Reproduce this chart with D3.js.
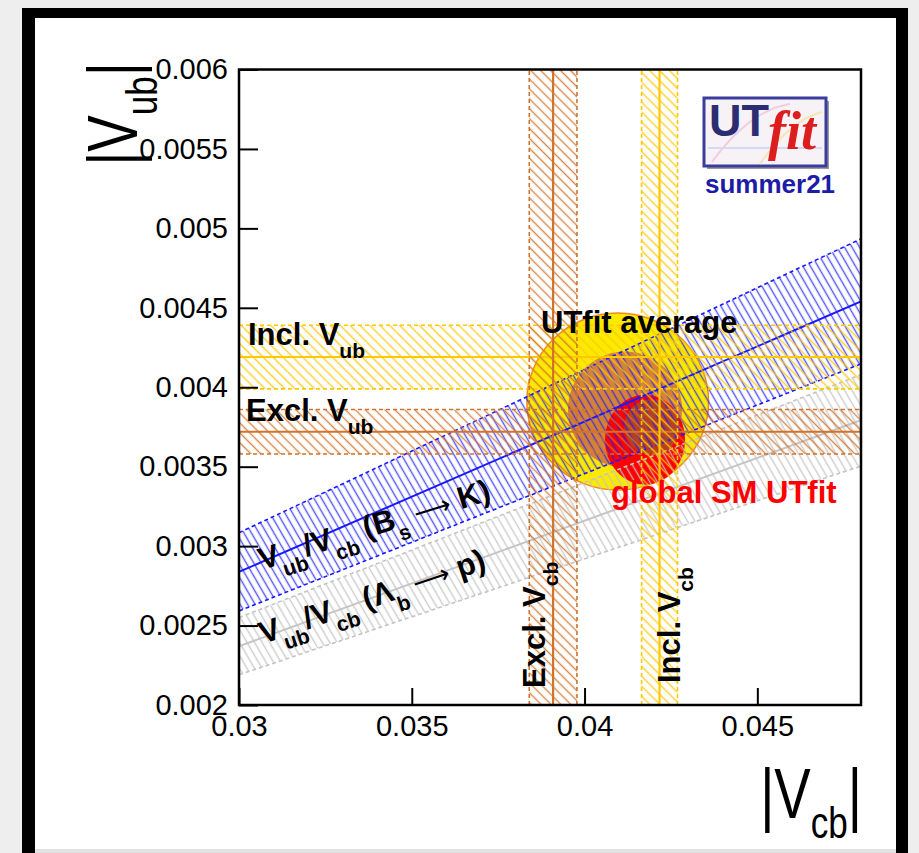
<!DOCTYPE html>
<html>
<head>
<meta charset="utf-8">
<script src="https://cdn.jsdelivr.net/npm/d3@7"></script>
<style>
  html, body { margin: 0; padding: 0; background: #eeeeee; }
  svg { display: block; }
</style>
</head>
<body>
<div id="chart"></div>
<script>
// axis ticks
const xTicks = [0.03, 0.035, 0.04, 0.045];
const xTickLabels = ["0.03", "0.035", "0.04", "0.045"];
const yTicks = [0.002, 0.0025, 0.003, 0.0035, 0.004, 0.0045, 0.005, 0.0055, 0.006];
const yTickLabels = ["0.002", "0.0025", "0.003", "0.0035", "0.004", "0.0045", "0.005", "0.0055", "0.006"];

// horizontal |Vub| bands
const vubNames = ["Incl.", "Excl."];
const vubCenter = [0.00419, 0.00372];
const vubError = [0.0002, 0.00014];

// vertical |Vcb| bands
const vcbNames = ["Excl.", "Incl."];
const vcbCenter = [0.03909, 0.04217];
const vcbError = [0.00069, 0.00052];

// |Vub|/|Vcb| ratio bands (Bs -> K, Lambda_b -> p)
const ratioNames = ["B_s", "Lambda_b"];
const ratioCenter = [0.0946, 0.079];
const ratioError = [0.0082, 0.006];

// 2D regions as [Vcb, Vub, half-width Vcb, half-width Vub], 95% then 68%
const avgRegions = [[0.04096, 0.00391, 0.00263, 0.000557], [0.04117, 0.00386, 0.00165, 0.000365]];
const smRegions = [[0.04175, 0.00367, 0.00116, 0.000283], [0.04195, 0.00375, 0.00080, 0.000175]];

const W = 919, H = 853;
const font = "'Liberation Sans', Arial, Helvetica, sans-serif";

const svg = d3.select("#chart").append("svg")
  .attr("width", W).attr("height", H);

const x = d3.scaleLinear().domain([0.03, 0.048]).range([239, 861]);
const y = d3.scaleLinear().domain([0.002, 0.006]).range([705, 69.5]);

// paper + black picture frame
svg.append("rect").attr("width", W).attr("height", H).attr("fill", "#eeeeee");
svg.append("rect").attr("x", 22).attr("y", 8).attr("width", 886).attr("height", 870).attr("fill", "#000");
svg.append("rect").attr("x", 35).attr("y", 18).attr("width", 861).attr("height", 831).attr("fill", "#fff");
svg.append("rect").attr("x", 35).attr("y", 849).attr("width", 861).attr("height", 4).attr("fill", "#e2e2e2");

const defs = svg.append("defs");
defs.append("clipPath").attr("id", "plot-clip")
  .append("rect")
  .attr("x", x(0.03)).attr("y", y(0.006))
  .attr("width", x(0.048) - x(0.03)).attr("height", y(0.002) - y(0.006));

function hatch(id, color, angle, gap, opacity) {
  const p = defs.append("pattern")
    .attr("id", id)
    .attr("patternUnits", "userSpaceOnUse")
    .attr("width", gap).attr("height", gap)
    .attr("patternTransform", `rotate(${angle})`);
  p.append("line")
    .attr("x1", gap / 2).attr("y1", 0).attr("x2", gap / 2).attr("y2", gap)
    .attr("stroke", color).attr("stroke-width", 1.4).attr("stroke-opacity", opacity);
}

const vubColors = ["#ffc800", "#d2732a"];
const vcbColors = ["#d2732a", "#ffc800"];
const ratioColors = ["#1a1aff", "#c4c4c4"];
hatch("h-incl", "#ffc800", -45, 7, 0.85);
hatch("h-excl", "#d2732a", -45, 7, 0.85);
hatch("h-bs", "#1a1aff", -30, 6.5, 0.75);
hatch("h-lb", "#c4c4c4", -30, 6.5, 0.85);
const vubHatch = ["h-incl", "h-excl"];
const vcbHatch = ["h-excl", "h-incl"];
const ratioHatch = ["h-bs", "h-lb"];

const plot = svg.append("g").attr("clip-path", "url(#plot-clip)");

// filled 2D regions
function ellipse(g, r, fill, opacity, stroke) {
  g.append("ellipse")
    .attr("cx", x(r[0])).attr("cy", y(r[1]))
    .attr("rx", x(r[0] + r[2]) - x(r[0]))
    .attr("ry", y(r[1]) - y(r[1] + r[3]))
    .attr("fill", fill).attr("fill-opacity", opacity)
    .attr("stroke", stroke || "none").attr("stroke-width", 1.5);
}
ellipse(plot, avgRegions[0], "#fbea00", 1, "#f08c1e");
ellipse(plot, avgRegions[1], "#d27a3c", 0.92);
ellipse(plot, smRegions[0], "#ff0000", 1);
ellipse(plot, smRegions[1], "#b8401e", 1);

const x0 = 0.03, x1 = 0.048;
const edgeDash = "4,3";

// ratio bands
ratioCenter.forEach((r, i) => {
  const lo = r - ratioError[i], hi = r + ratioError[i];
  const poly = [[x0, lo * x0], [x1, lo * x1], [x1, hi * x1], [x0, hi * x0]];
  plot.append("path")
    .attr("d", d3.line().x(d => x(d[0])).y(d => y(d[1]))(poly) + "Z")
    .attr("fill", `url(#${ratioHatch[i]})`);
  [lo, hi].forEach(s => {
    plot.append("line")
      .attr("x1", x(x0)).attr("y1", y(s * x0)).attr("x2", x(x1)).attr("y2", y(s * x1))
      .attr("stroke", ratioColors[i]).attr("stroke-width", 1.6).attr("stroke-dasharray", edgeDash);
  });
  plot.append("line")
    .attr("x1", x(x0)).attr("y1", y(r * x0)).attr("x2", x(x1)).attr("y2", y(r * x1))
    .attr("stroke", ratioColors[i]).attr("stroke-width", 2);
});

// horizontal |Vub| bands
vubCenter.forEach((v, i) => {
  const lo = v - vubError[i], hi = v + vubError[i];
  plot.append("rect")
    .attr("x", x(x0)).attr("y", y(hi))
    .attr("width", x(x1) - x(x0)).attr("height", y(lo) - y(hi))
    .attr("fill", `url(#${vubHatch[i]})`);
  [lo, hi].forEach(s => {
    plot.append("line")
      .attr("x1", x(x0)).attr("x2", x(x1)).attr("y1", y(s)).attr("y2", y(s))
      .attr("stroke", vubColors[i]).attr("stroke-width", 1.6).attr("stroke-dasharray", edgeDash);
  });
  plot.append("line")
    .attr("x1", x(x0)).attr("x2", x(x1)).attr("y1", y(v)).attr("y2", y(v))
    .attr("stroke", vubColors[i]).attr("stroke-width", 2);
});

// vertical |Vcb| bands
vcbCenter.forEach((v, i) => {
  const lo = v - vcbError[i], hi = v + vcbError[i];
  plot.append("rect")
    .attr("x", x(lo)).attr("y", y(0.006))
    .attr("width", x(hi) - x(lo)).attr("height", y(0.002) - y(0.006))
    .attr("fill", `url(#${vcbHatch[i]})`);
  [lo, hi].forEach(s => {
    plot.append("line")
      .attr("x1", x(s)).attr("x2", x(s)).attr("y1", y(0.002)).attr("y2", y(0.006))
      .attr("stroke", vcbColors[i]).attr("stroke-width", 1.6).attr("stroke-dasharray", edgeDash);
  });
  plot.append("line")
    .attr("x1", x(v)).attr("x2", x(v)).attr("y1", y(0.002)).attr("y2", y(0.006))
    .attr("stroke", vcbColors[i]).attr("stroke-width", 2.2);
});

// text with subscripts: parts = [[text, kind]], kind = "sub" | "arrow" | undefined
function label(g, parts, size, color, transform) {
  const t = g.append("text")
    .attr("transform", transform)
    .attr("font-family", font).attr("font-weight", "bold")
    .attr("font-size", size).attr("fill", color || "#000");
  let down = false;
  parts.forEach(([s, kind]) => {
    const span = t.append("tspan").text(s);
    if (kind === "sub") {
      span.attr("font-size", size * 0.68);
      if (!down) { span.attr("dy", size * 0.42); down = true; }
    } else {
      if (down) { span.attr("dy", -size * 0.42); down = false; }
      if (kind === "arrow") {
        span.attr("font-family", "'DejaVu Sans', sans-serif").attr("font-weight", "normal")
          .attr("font-size", size * 0.85);
      }
    }
  });
  return t;
}

const fs = 31;
label(svg, [["Incl. V"], ["ub", "sub"]], fs, "#000", "translate(248,345)");
label(svg, [["Excl. V"], ["ub", "sub"]], fs, "#000", "translate(246,421)");
label(svg, [["UTfit average"]], fs, "#000", "translate(541,333)");
label(svg, [["global SM UTfit"]], fs, "#ff0000", "translate(611,503)");
label(svg, [["V"], ["ub", "sub"], ["/V"], ["cb", "sub"], [" (B"], ["s", "sub"], [" \u27F6", "arrow"], [" K)"]], fs, "#000",
  "translate(262,570) rotate(-17)");
label(svg, [["V"], ["ub", "sub"], ["/V"], ["cb", "sub"], [" (\u039B"], ["b", "sub"], [" \u27F6", "arrow"], [" p)"]], fs, "#000",
  "translate(263,644) rotate(-18.5)");
label(svg, [["Excl. V"], ["cb", "sub"]], fs, "#000", "translate(545,688) rotate(-90)");
label(svg, [["Incl. V"], ["cb", "sub"]], fs, "#000", "translate(680,683) rotate(-90)");

// logo
const logo = svg.append("g");
logo.append("rect").attr("x", 707).attr("y", 101).attr("width", 122).attr("height", 68).attr("fill", "#9a9a9a");
logo.append("rect").attr("x", 704).attr("y", 98).attr("width", 122).attr("height", 68)
  .attr("fill", "#f6f2f6").attr("stroke", "#3c3c9c").attr("stroke-width", 3);
logo.append("path").attr("d", "M708,148 L822,148").attr("stroke", "#c8d2f2").attr("stroke-width", 1.5);
logo.append("path").attr("d", "M712,162 Q750,110 790,104").attr("stroke", "#f2cce0").attr("fill", "none").attr("stroke-width", 2);
logo.append("path").attr("d", "M760,164 Q790,120 822,112").attr("stroke", "#f6e6b0").attr("fill", "none").attr("stroke-width", 2);
const logoText = logo.append("text").attr("x", 709).attr("y", 136)
  .attr("font-family", font).attr("font-weight", "bold").attr("font-size", 45)
  .attr("fill", "#2c2c72");
logoText.append("tspan").text("UT");
logoText.append("tspan").text("fit").attr("dx", -1).attr("dy", 13)
  .attr("font-family", "'Liberation Serif', 'Times New Roman', serif")
  .attr("font-style", "italic").attr("font-size", 54).attr("fill", "#dc1e1e");
svg.append("text").attr("x", 705).attr("y", 193)
  .attr("font-family", font).attr("font-weight", "bold").attr("font-size", 26)
  .attr("fill", "#1c1ca6").text("summer21");

// axes
const yAxis = svg.append("g").attr("transform", `translate(${x(0.03)},0)`);
yAxis.call(d3.axisLeft(y).tickValues(d3.range(20, 61).map(d => d / 10000)).tickSize(-10).tickFormat(""));
yAxis.call(d3.axisLeft(y).tickValues(yTicks).tickSize(-19).tickPadding(11)
  .tickFormat((d, i) => yTickLabels[i]));
const xAxis = svg.append("g").attr("transform", `translate(0,${y(0.002)})`);
xAxis.call(d3.axisBottom(x).tickValues(d3.range(30, 49).map(d => d / 1000)).tickSize(-9).tickFormat(""));
xAxis.call(d3.axisBottom(x).tickValues(xTicks).tickSize(-17).tickPadding(10)
  .tickFormat((d, i) => xTickLabels[i]));

svg.selectAll(".domain").remove();
svg.selectAll(".tick line").attr("stroke", "#000").attr("stroke-width", 2);
svg.selectAll(".tick text").attr("font-family", font).attr("font-size", 29).attr("fill", "#000");

svg.append("rect")
  .attr("x", x(0.03)).attr("y", y(0.006))
  .attr("width", x(0.048) - x(0.03)).attr("height", y(0.002) - y(0.006))
  .attr("fill", "none").attr("stroke", "#000").attr("stroke-width", 2.5);

// axis titles (narrow, like the original font)
const xt = svg.append("text").attr("transform", "translate(862,818) scale(0.78,1)").attr("text-anchor", "end")
  .attr("font-family", font).attr("font-size", 70).attr("fill", "#000");
xt.append("tspan").text("|V");
xt.append("tspan").text("cb").attr("font-size", 45).attr("dy", 20);
xt.append("tspan").text("|").attr("dy", -20);

const yt = svg.append("text").attr("transform", "translate(137,62) rotate(-90) scale(0.78,1)").attr("text-anchor", "end")
  .attr("font-family", font).attr("font-size", 70).attr("fill", "#000");
yt.append("tspan").text("|V");
yt.append("tspan").text("ub").attr("font-size", 45).attr("dy", 20);
yt.append("tspan").text("|").attr("dy", -20);
</script>
</body>
</html>
